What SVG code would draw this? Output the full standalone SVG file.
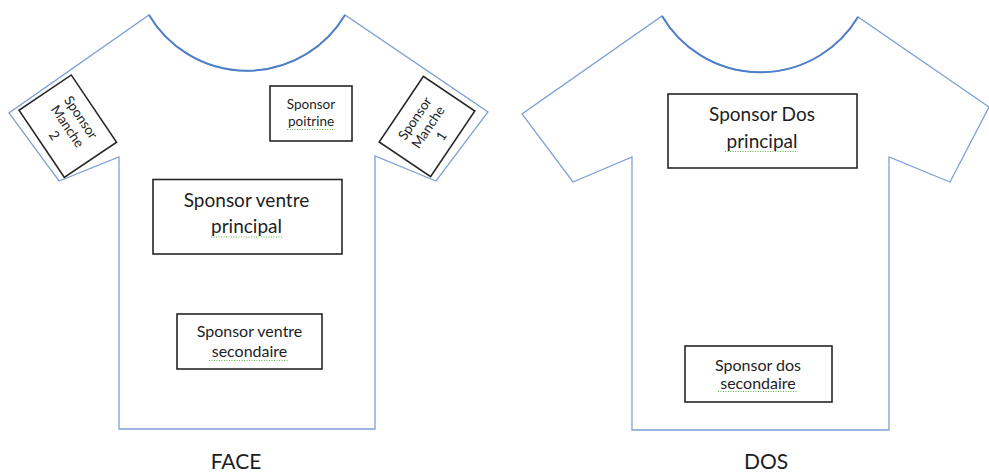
<svg xmlns="http://www.w3.org/2000/svg" width="989" height="472" viewBox="0 0 989 472">
<style>
.shirt{fill:#ffffff;stroke:#7ea0d6;stroke-width:1.3;stroke-linejoin:miter}
.neck{fill:none;stroke:#4f7fc9;stroke-width:2}
.box{fill:#ffffff;stroke:#262626;stroke-width:1.6}
.t{font-family:Lato,"Liberation Sans",sans-serif;fill:#1e1e1e;text-anchor:middle}
.s13{font-size:13.5px}
.s15{font-size:16px}
.s18{font-size:19px}
.s20{font-size:21px}
.sq{fill:none;stroke:#5fb84a;stroke-width:1;stroke-dasharray:1 1.5}
</style>
<rect width="989" height="472" fill="#ffffff"/>
<g id="shirt-face">
<path class="shirt" d="M149,15 A114,114 0 0 0 345,15 L488,112 L436,181 L375,156 L375,429 L119,429 L119,157 L59,181 L9,113 Z"/>
<path class="neck" d="M149,15 A114,114 0 0 0 345,15"/>
</g>
<g id="shirt-dos">
<path class="shirt" d="M662,16 A114,114 0 0 0 858,17 L989,107 L950,182 L889,157 L889,430 L632,430 L632,157 L573,182 L522,114 Z"/>
<path class="neck" d="M662,16 A114,114 0 0 0 858,17"/>
</g>
<g id="manche2" transform="translate(67.8,126.2) rotate(56)">
<rect class="box" x="-40.5" y="-31.5" width="81" height="63"/>
<text class="t s13" x="0" y="-11">Sponsor</text>
<text class="t s13" x="0" y="5">Manche</text>
<text class="t s13" x="0" y="21">2</text>
</g>
<g id="manche1" transform="translate(427,126.5) rotate(-56)">
<rect class="box" x="-39.5" y="-31" width="79" height="62"/>
<text class="t s13" x="0" y="-10">Sponsor</text>
<text class="t s13" x="0" y="6">Manche</text>
<text class="t s13" x="0" y="22">1</text>
</g>
<g id="poitrine">
<rect class="box" x="270" y="86" width="82" height="55"/>
<text class="t s13" x="311" y="109">Sponsor</text>
<text class="t s13" x="311" y="126">poitrine</text>
<line class="sq" x1="287" y1="129.5" x2="335" y2="129.5"/>
</g>
<g id="ventre-principal">
<rect class="box" x="153" y="179.5" width="189" height="74.5"/>
<text class="t s18" x="246.5" y="206.5">Sponsor ventre</text>
<text class="t s18" x="246.5" y="233">principal</text>
<line class="sq" x1="211" y1="237" x2="282" y2="237"/>
</g>
<g id="ventre-secondaire">
<rect class="box" x="177" y="314" width="145" height="55"/>
<text class="t s15" x="249.5" y="337">Sponsor ventre</text>
<text class="t s15" x="249.5" y="357">secondaire</text>
<line class="sq" x1="209" y1="360.5" x2="288" y2="360.5"/>
</g>
<g id="dos-principal">
<rect class="box" x="668" y="94" width="189" height="74"/>
<text class="t s18" x="762" y="121">Sponsor Dos</text>
<text class="t s18" x="762" y="147.5">principal</text>
<line class="sq" x1="725" y1="151.5" x2="798" y2="151.5"/>
</g>
<g id="dos-secondaire">
<rect class="box" x="685" y="346" width="147" height="56"/>
<text class="t s15" x="758" y="371">Sponsor dos</text>
<text class="t s15" x="758" y="388.5">secondaire</text>
<line class="sq" x1="718" y1="391.5" x2="798" y2="391.5"/>
</g>
<g id="labels">
<text class="t s20" x="236" y="469">FACE</text>
<text class="t s20" x="766" y="469">DOS</text>
</g>
<g id="connectors"></g>
</svg>
